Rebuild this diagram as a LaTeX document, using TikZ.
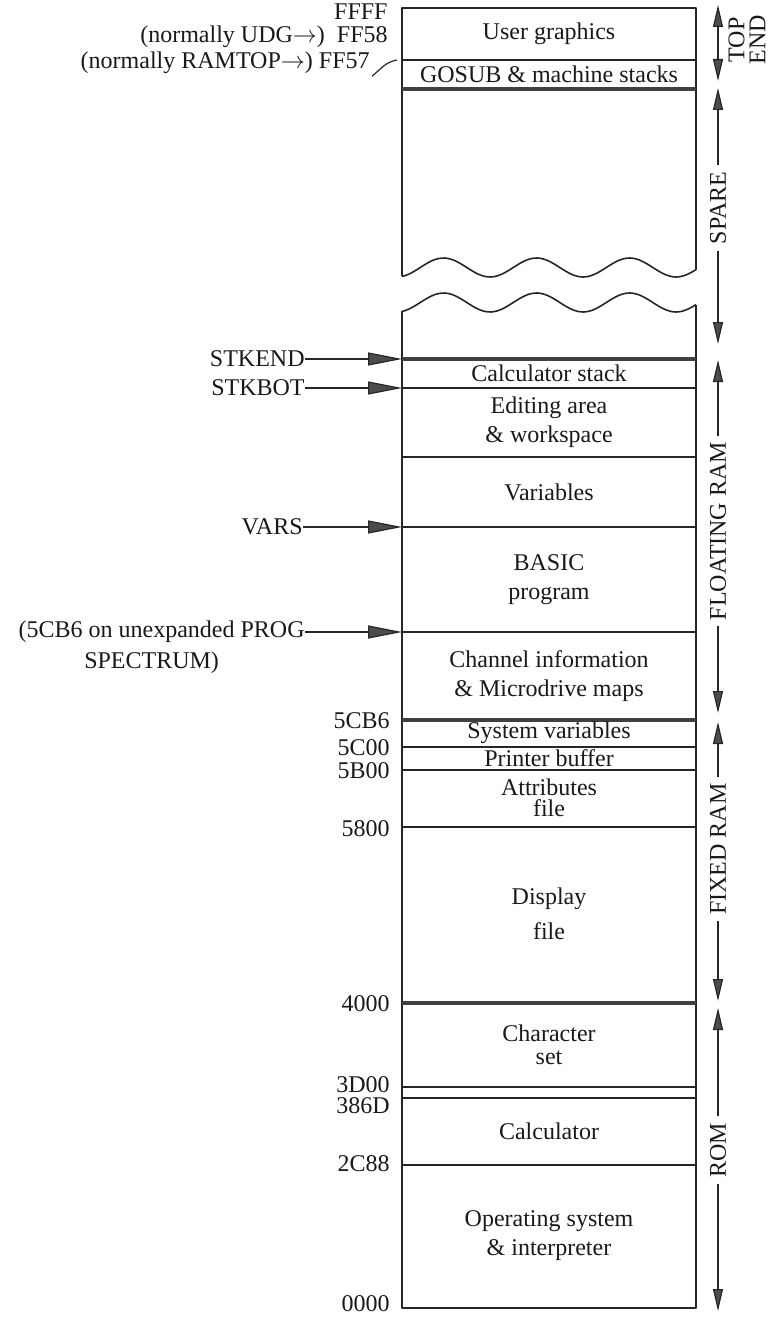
\documentclass[tikz,border=0pt]{standalone}
\usepackage{fontspec}
\setmainfont{Liberation Serif}
\usetikzlibrary{arrows.meta,positioning}

\begin{document}
\begin{tikzpicture}[x=0.5pt, y=-0.5pt, line join=round,
  every node/.style={font=\fontsize{12}{14.5}\selectfont, text=black!90},
  wall/.style={draw=black!85, line width=0.8pt},
  bar/.style={draw=black!75, line width=2.2pt},
  addr/.style={anchor=east, inner sep=0pt},
  ptr/.style={draw=black!85, line width=0.6pt, -{Triangle[length=17pt,width=6.5pt,fill=black!70]}},
  span/.style={draw=black!85, line width=0.6pt},
  side/.style={rotate=90, inner sep=3pt, align=center},
  >={Triangle[length=11pt,width=5pt,fill=black!70]}]
\useasboundingbox (0,0) rectangle (770,1321);

% upper block, broken off by a wave
\draw[wall] (402,{267.5+9.5*cos(3.87*5)}) -- (402,8) -- (696,8) -- (696,{267.5+9.5*cos(3.87*299)});
\draw[wall] plot[domain=402:696, samples=90, smooth] (\x,{267.5+9.5*cos(3.87*(\x-397))});
% lower block
\draw[wall] plot[domain=402:696, samples=90, smooth] (\x,{302.5+9.5*cos(3.87*(\x-397))});
\draw[wall] (402,{302.5+9.5*cos(3.87*5)}) -- (402,1308) -- (696,1308) -- (696,{302.5+9.5*cos(3.87*299)});

% dividers
\foreach \y in {60,388,457,527,632,747,770,827,1087,1098,1165}
  \draw[wall] (402,\y) -- (696,\y);
\foreach \y in {89,359,720,1003}
  \draw[bar] (402,\y) -- (696,\y);

% regions
\node (udg) at (549,34) {User graphics};
\node (gosub) at (549,74) {GOSUB \& machine stacks};
\node (calcstk) at (549,373) {Calculator stack};
\node[align=center] (edit) at (549,422) {Editing area\\\& workspace};
\node (vars) at (549,492) {Variables};
\node[align=center] (basic) at (549,580) {BASIC\\program};
\node[align=center] (chan) at (549,676) {Channel information\\\& Microdrive maps};
\node (sysvar) at (549,733) {System variables};
\node (prbuf) at (549,758) {Printer buffer};
\node[align=center] (attr) at (549,798) {Attributes\\[-4pt]file};
\node[align=center] (disp) at (549,914) {Display\\[3pt]file};
\node[align=center] (chset) at (549,1045) {Character\\[-3pt]set};
\node (calc) at (549,1131) {Calculator};
\node[align=center] (os) at (549,1236) {Operating system\\\& interpreter};

% addresses
\node[addr] (ffff) at (388,12) {FFFF};
\node[addr] (ff58) at (388,37) {(normally UDG$\rightarrow$)\enspace FF58};
\node[addr] (ff57) at (370,63) {(normally RAMTOP$\rightarrow$) FF57};
\coordinate (ramtop) at (397,60);
\draw[span] ([shift={(1pt,-1pt)}]ff57.south east) to[out=40,in=190] (ramtop);
\node[addr] (a5cb6) at (390,721) {5CB6};
\node[addr] (a5c00) at (390,748) {5C00};
\node[addr] (a5b00) at (390,771) {5B00};
\node[addr] (a5800) at (390,829) {5800};
\node[addr] (a4000) at (390,1004) {4000};
\node[addr] (a3d00) at (390,1085) {3D00};
\node[addr] (a386d) at (390,1106) {386D};
\node[addr] (a2c88) at (390,1164) {2C88};
\node[addr] (a0000) at (390,1304) {0000};

% system variable pointers
\node[addr] (stkend) at (305,359) {STKEND};
\node[addr] (stkbot) at (305,388) {STKBOT};
\node[addr] (varsp) at (303,527) {VARS};
\node[addr] (prog) at (305,632) {(5CB6 on unexpanded PROG};
\node[inner sep=0pt, below=4pt of prog, xshift=-5pt] (spectrum) {SPECTRUM)};
\coordinate (stkendp) at (402,359);
\coordinate (stkbotp) at (402,388);
\coordinate (varspp) at (402,527);
\coordinate (progp) at (402,632);
\draw[ptr] (stkend) -- (stkendp);
\draw[ptr] (stkbot) -- (stkbotp);
\draw[ptr] (varsp) -- (varspp);
\draw[ptr] (prog) -- (progp);

% spans on the right
\coordinate (top1) at (718,5);
\coordinate (top2) at (718,81);
\node[side] (topend) at (747,40) {TOP\\[-4pt]END};
\draw[span, <->] (top1) -- (top2);

\coordinate (spare1) at (718,88);
\coordinate (spare2) at (718,344);
\node[side] (spare) at (718,208) {SPARE};
\draw[span, ->] (spare.east) -- (spare1);
\draw[span, ->] (spare.west) -- (spare2);

\coordinate (float1) at (718,360);
\coordinate (float2) at (718,713);
\node[side] (float) at (718,531) {FLOATING RAM};
\draw[span, ->] (float.east) -- (float1);
\draw[span, ->] (float.west) -- (float2);

\coordinate (fixed1) at (718,722);
\coordinate (fixed2) at (718,1001);
\node[side] (fixed) at (718,849) {FIXED RAM};
\draw[span, ->] (fixed.east) -- (fixed1);
\draw[span, ->] (fixed.west) -- (fixed2);

\coordinate (rom1) at (718,1008);
\coordinate (rom2) at (718,1311);
\node[side] (rom) at (718,1150) {ROM};
\draw[span, ->] (rom.east) -- (rom1);
\draw[span, ->] (rom.west) -- (rom2);
\end{tikzpicture}
\end{document}
